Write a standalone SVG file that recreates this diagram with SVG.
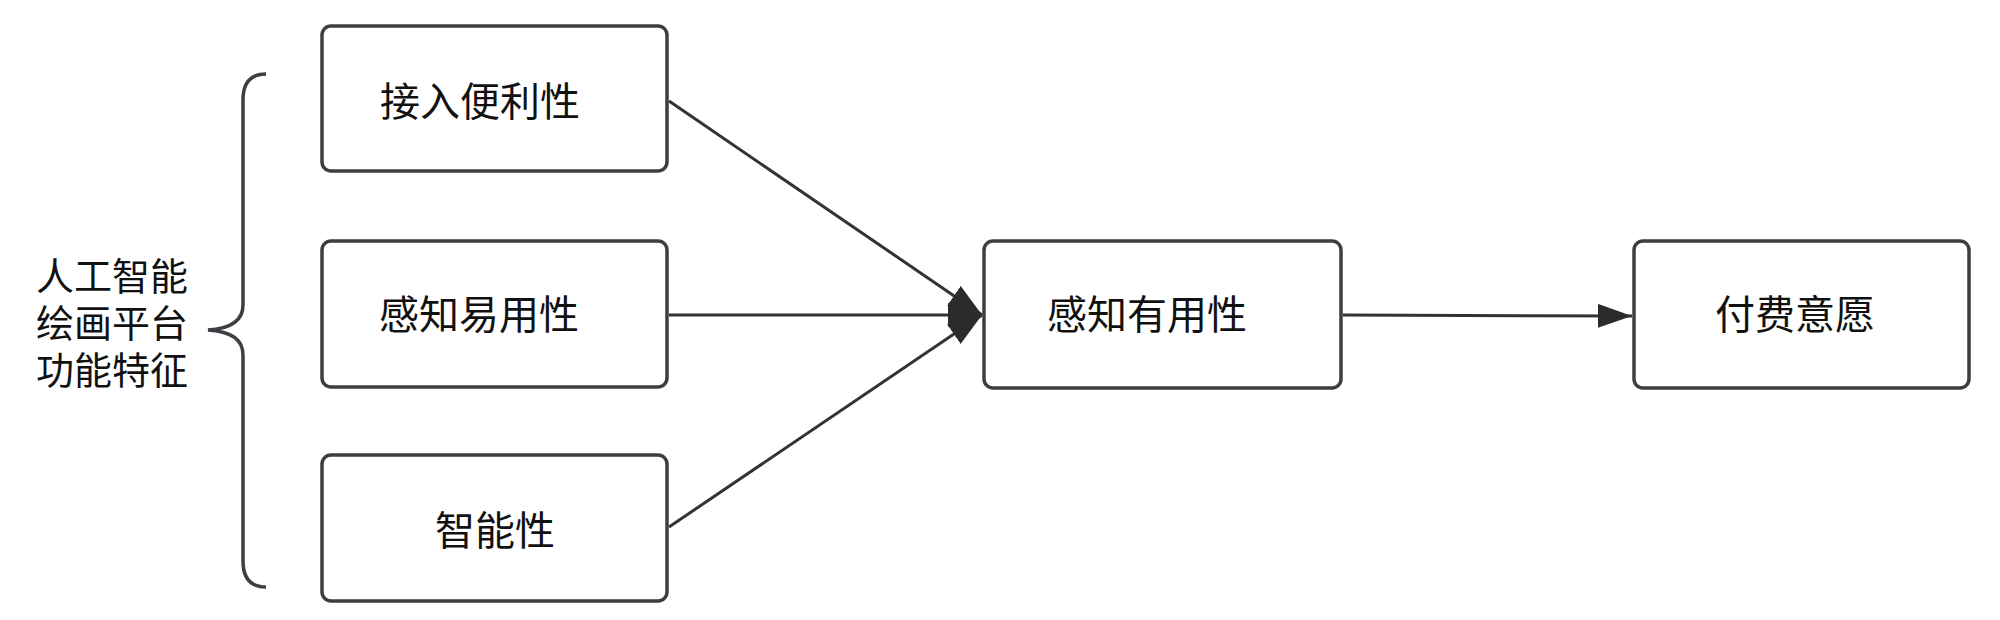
<svg xmlns="http://www.w3.org/2000/svg" width="2000" height="620" viewBox="0 0 2000 620">
<defs>
<style>
.box{fill:#fff;stroke:#3b3e43;stroke-width:3.5}
.lbl{font-family:"Liberation Sans","Noto Sans CJK SC",sans-serif;font-size:40px;fill:#111;text-anchor:middle;dominant-baseline:central}
.side{font-size:38px}
.edge{stroke:#333;stroke-width:3;fill:none}
</style>
<marker id="ah" viewBox="0 0 10 10" refX="10" refY="5" markerWidth="34" markerHeight="24" markerUnits="userSpaceOnUse" orient="auto" preserveAspectRatio="none">
<path d="M0,0 L10,5 L0,10 z" fill="#2b2b2b"/>
</marker>
</defs>
<rect width="2000" height="620" fill="#fff"/>
<g id="brace">
<path d="M266,74 Q243,74 243,100 L243,305 Q243,328 208,330 Q243,332 243,355 L243,561 Q243,587 266,587" fill="none" stroke="#3b3e43" stroke-width="3.5"/>
<text class="lbl side" x="112" y="277">人工智能</text>
<text class="lbl side" x="112" y="324">绘画平台</text>
<text class="lbl side" x="112" y="371">功能特征</text>
</g>
<g id="connectors">
<line class="edge" x1="669" y1="101" x2="982" y2="315" marker-end="url(#ah)"/>
<line class="edge" x1="669" y1="315" x2="982" y2="315" marker-end="url(#ah)"/>
<line class="edge" x1="669" y1="527" x2="982" y2="315" marker-end="url(#ah)"/>
<line class="edge" x1="1343" y1="315" x2="1632" y2="316" marker-end="url(#ah)"/>
</g>
<g id="n1">
<rect class="box" x="322" y="26" width="345" height="145" rx="9"/>
<text class="lbl" x="480" y="102">接入便利性</text>
</g>
<g id="n2">
<rect class="box" x="322" y="241" width="345" height="146" rx="9"/>
<text class="lbl" x="479" y="315">感知易用性</text>
</g>
<g id="n3">
<rect class="box" x="322" y="455" width="345" height="146" rx="9"/>
<text class="lbl" x="495" y="531">智能性</text>
</g>
<g id="n4">
<rect class="box" x="984" y="241" width="357" height="147" rx="9"/>
<text class="lbl" x="1147" y="315">感知有用性</text>
</g>
<g id="n5">
<rect class="box" x="1634" y="241" width="335" height="147" rx="9"/>
<text class="lbl" x="1795" y="315">付费意愿</text>
</g>
</svg>
